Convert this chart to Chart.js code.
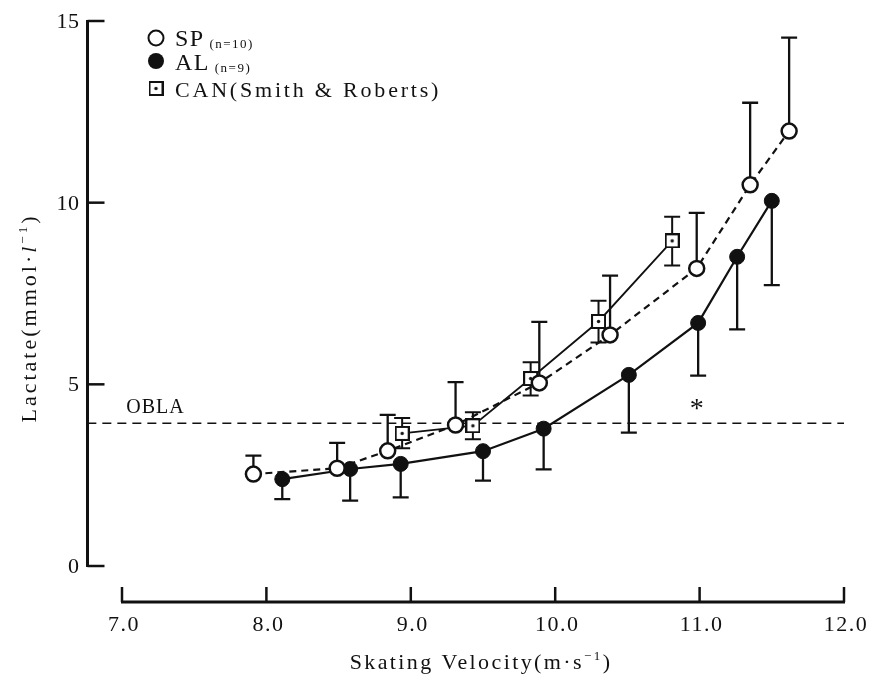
<!DOCTYPE html>
<html>
<head>
<meta charset="utf-8">
<script src="https://cdn.jsdelivr.net/npm/chart.js@4.4.1/dist/chart.umd.min.js"></script>
<style>
html,body{margin:0;padding:0;background:#fff;}
#wrap{width:882px;height:683px;position:relative;}
</style>
</head>
<body>
<div id="wrap"><canvas id="c"></canvas></div>
<script>
// ---- axis ticks ----
const xTicks = [7.0, 8.0, 9.0, 10.0, 11.0, 12.0];
const xTickLabels = ['7.0', '8.0', '9.0', '10.0', '11.0', '12.0'];
const yTicks = [0, 5, 10, 15];
const yTickLabels = ['0', '5', '10', '15'];

// ---- SP (n=10), open circles, dashed, upper SD ----
const spX     = [7.91, 8.49, 8.84, 9.31, 9.89, 10.38, 10.98, 11.35, 11.62];
const spY     = [2.53, 2.69, 3.17, 3.88, 5.04, 6.36, 8.19, 10.49, 11.97];
const spUpper = [3.04, 3.39, 4.16, 5.06, 6.72, 7.99, 9.72, 12.75, 14.54];

// ---- AL (n=9), filled circles, solid, lower SD ----
const alX     = [8.11, 8.58, 8.93, 9.50, 9.92, 10.51, 10.99, 11.26, 11.50];
const alY     = [2.39, 2.67, 2.81, 3.16, 3.78, 5.26, 6.69, 8.51, 10.05];
const alLower = [1.84, 1.80, 1.89, 2.35, 2.66, 3.67, 5.24, 6.51, 7.73];

// ---- CAN (Smith & Roberts), squares, solid, +/- SD ----
const canX     = [8.94, 9.43, 9.83, 10.30, 10.81];
const canY     = [3.65, 3.86, 5.16, 6.73, 8.95];
const canUpper = [4.07, 4.23, 5.61, 7.30, 9.61];
const canLower = [3.24, 3.49, 4.69, 6.15, 8.27];

// ---- OBLA reference line ----
const oblaLevel = 3.93;
const oblaFromTo = [6.76, 12.0];
const oblaLabel = 'OBLA';
const starPos = [10.98, 4.45];

const toPts = (xs, ys) => xs.map((x, i) => ({x: x, y: ys[i]}));

const SERIF = '"Liberation Serif", "DejaVu Serif", serif';
const INK = '#111';

// square-with-dot marker
function squareMarker(size) {
  const c = document.createElement('canvas');
  c.width = size; c.height = size;
  const g = c.getContext('2d');
  g.fillStyle = '#fff';
  g.fillRect(0, 0, size, size);
  g.strokeStyle = INK; g.lineWidth = 2;
  g.strokeRect(1, 1, size - 2, size - 2);
  g.fillStyle = INK;
  g.beginPath(); g.arc(size / 2, size / 2, 1.7, 0, Math.PI * 2); g.fill();
  return c;
}
const sqImg = squareMarker(15);

// draw a sequence of text runs [{t, size, dy, italic}]
function drawRuns(ctx, x, y, runs, align, spacing) {
  ctx.save();
  ctx.letterSpacing = spacing + 'px';
  let widths = runs.map(r => {
    ctx.font = (r.italic ? 'italic ' : '') + r.size + 'px ' + SERIF;
    return ctx.measureText(r.t).width;
  });
  const total = widths.reduce((a, b) => a + b, 0);
  let cx = align === 'center' ? x - total / 2 : (align === 'right' ? x - total : x);
  ctx.textAlign = 'left';
  ctx.textBaseline = 'alphabetic';
  runs.forEach((r, i) => {
    ctx.font = (r.italic ? 'italic ' : '') + r.size + 'px ' + SERIF;
    ctx.fillText(r.t, cx, y + (r.dy || 0));
    cx += widths[i];
  });
  ctx.restore();
}

const paperPlugin = {
  id: 'paper',
  beforeDatasetsDraw(chart) {
    const ctx = chart.ctx, xs = chart.scales.x, ys = chart.scales.y;
    const bars = [
      {x: spX, y: spY, hi: spUpper, lo: null, w: 2.3},
      {x: alX, y: alY, hi: null, lo: alLower, w: 2.3},
      {x: canX, y: canY, hi: canUpper, lo: canLower, w: 2}
    ];
    ctx.save();
    ctx.strokeStyle = INK;
    bars.forEach(b => {
      ctx.lineWidth = b.w;
      b.x.forEach((xv, i) => {
        const px = xs.getPixelForValue(xv);
        const py = ys.getPixelForValue(b.y[i]);
        [b.hi, b.lo].forEach(arr => {
          if (!arr) return;
          const pe = ys.getPixelForValue(arr[i]);
          ctx.beginPath();
          ctx.moveTo(px, py); ctx.lineTo(px, pe);
          ctx.moveTo(px - 8, pe); ctx.lineTo(px + 8, pe);
          ctx.stroke();
        });
      });
    });
    ctx.restore();
  },
  afterDatasetsDraw(chart) {
    const ctx = chart.ctx, xs = chart.scales.x, ys = chart.scales.y;
    const ca = chart.chartArea;
    const axX = ca.left - 34.5;     // y-axis line position
    const axY = ca.bottom + 36;     // x-axis line position
    ctx.save();
    ctx.strokeStyle = INK; ctx.fillStyle = INK;
    ctx.lineCap = 'butt';

    // y axis
    ctx.lineWidth = 3;
    ctx.beginPath();
    ctx.moveTo(axX, ys.getPixelForValue(yTicks[yTicks.length - 1]) - 1);
    ctx.lineTo(axX, ys.getPixelForValue(yTicks[0]) + 1);
    ctx.stroke();
    ctx.lineWidth = 2.5;
    yTicks.forEach((v, i) => {
      const py = ys.getPixelForValue(v);
      ctx.beginPath(); ctx.moveTo(axX, py); ctx.lineTo(axX + 17, py); ctx.stroke();
      drawRuns(ctx, axX - 8, py + 7, [{t: yTickLabels[i], size: 22}], 'right', 0.5);
    });

    // x axis
    ctx.lineWidth = 3;
    ctx.beginPath();
    ctx.moveTo(xs.getPixelForValue(xTicks[0]) - 1, axY);
    ctx.lineTo(xs.getPixelForValue(xTicks[xTicks.length - 1]) + 1, axY);
    ctx.stroke();
    ctx.lineWidth = 2.5;
    xTicks.forEach((v, i) => {
      const px = xs.getPixelForValue(v);
      ctx.beginPath(); ctx.moveTo(px, axY); ctx.lineTo(px, axY - 15); ctx.stroke();
      drawRuns(ctx, px + 2, axY + 29, [{t: xTickLabels[i], size: 22}], 'center', 1.5);
    });

    // axis titles
    drawRuns(ctx, (ca.left + ca.right) / 2 - 2, axY + 67, [
      {t: 'Skating Velocity(m\u00b7s', size: 22},
      {t: '\u22121', size: 13, dy: -9},
      {t: ')', size: 22}
    ], 'center', 2.4);
    ctx.save();
    ctx.translate(36, 318);
    ctx.rotate(-Math.PI / 2);
    drawRuns(ctx, 0, 0, [
      {t: 'Lactate(mmol\u00b7', size: 22},
      {t: 'l', size: 22, italic: true},
      {t: '\u22121', size: 13, dy: -9},
      {t: ')', size: 22}
    ], 'center', 3);
    ctx.restore();

    // OBLA label and asterisk
    drawRuns(ctx, xs.getPixelForValue(7.03), ys.getPixelForValue(oblaLevel) - 10,
      [{t: oblaLabel, size: 20}], 'left', 1);
    ctx.font = '28px ' + SERIF;
    ctx.textAlign = 'center'; ctx.textBaseline = 'middle';
    ctx.fillText('*', xs.getPixelForValue(starPos[0]), ys.getPixelForValue(starPos[1]) + 5);

    // legend
    const lx = 156, tx = 175;
    ctx.lineWidth = 2;
    ctx.beginPath(); ctx.arc(lx, 38, 7.5, 0, Math.PI * 2);
    ctx.fillStyle = '#fff'; ctx.fill(); ctx.stroke();
    ctx.fillStyle = INK;
    ctx.beginPath(); ctx.arc(lx, 61, 8, 0, Math.PI * 2); ctx.fill();
    ctx.drawImage(sqImg, lx - 7.5, 81);
    drawRuns(ctx, tx, 46, [{t: 'SP', size: 24}, {t: ' (n=10)', size: 13, dy: 2}], 'left', 1.5);
    drawRuns(ctx, tx, 70, [{t: 'AL', size: 24}, {t: ' (n=9)', size: 13, dy: 2}], 'left', 1.5);
    drawRuns(ctx, tx, 97, [{t: 'CAN(Smith & Roberts)', size: 22}], 'left', 2.8);
    ctx.restore();
  }
};

new Chart(document.getElementById('c'), {
  type: 'scatter',
  data: {
    datasets: [
      {
        label: 'SP', data: toPts(spX, spY), showLine: true,
        borderColor: INK, borderWidth: 2.2, borderDash: [7, 5],
        pointStyle: 'circle', pointRadius: 7.5, pointBorderWidth: 2.5,
        pointBorderColor: INK, pointBackgroundColor: '#fff', clip: false, order: 1
      },
      {
        label: 'AL', data: toPts(alX, alY), showLine: true,
        borderColor: INK, borderWidth: 2.2,
        pointStyle: 'circle', pointRadius: 7.5, pointBorderWidth: 1,
        pointBorderColor: INK, pointBackgroundColor: INK, clip: false, order: 2
      },
      {
        label: 'CAN', data: toPts(canX, canY), showLine: true,
        borderColor: INK, borderWidth: 1.8,
        pointStyle: sqImg, pointRadius: 7.5,
        clip: false, order: 3
      },
      {
        label: 'OBLA', data: [{x: oblaFromTo[0], y: oblaLevel}, {x: oblaFromTo[1], y: oblaLevel}],
        showLine: true, borderColor: INK, borderWidth: 1.6, borderDash: [9, 6],
        pointRadius: 0, clip: false, order: 10
      }
    ]
  },
  options: {
    responsive: true, maintainAspectRatio: false, animation: false,
    devicePixelRatio: 1,
    layout: {padding: {left: 122, right: 38, top: 21, bottom: 117}},
    scales: {
      x: {type: 'linear', min: 7, max: 12, display: false},
      y: {type: 'linear', min: 0, max: 15, display: false}
    },
    plugins: {legend: {display: false}, tooltip: {enabled: false}}
  },
  plugins: [paperPlugin]
});
</script>
</body>
</html>
